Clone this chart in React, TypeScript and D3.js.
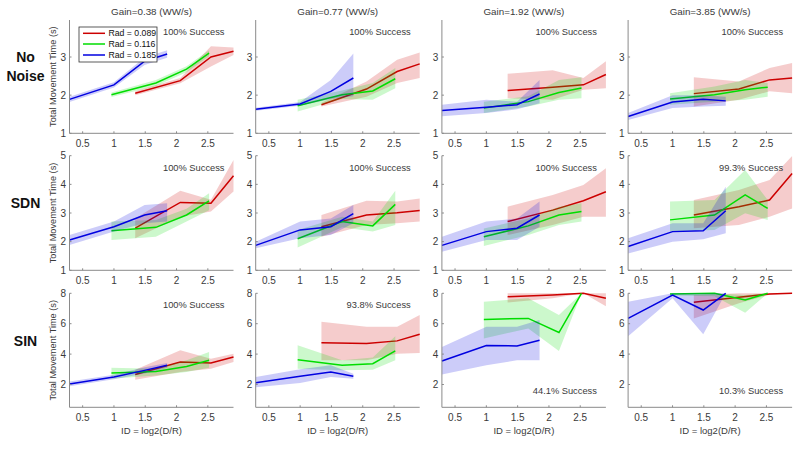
import React from "react";
import * as d3 from "d3";

const GAINS = ["0.38", "0.77", "1.92", "3.85"];
const ROW_LABELS = [["No", "Noise"], ["SDN"], ["SIN"]];
const RADII = ["0.089", "0.116", "0.185"];
const ID_RED = [1.34, 2.06, 2.55, 2.91];
const ID_GREEN = [0.96, 1.67, 2.16, 2.52];
const ID_BLUE = [0.29, 1.0, 1.49, 1.85];
const X_DOMAIN = [0.29, 2.91];
const X_TICKS = [0.5, 1, 1.5, 2, 2.5];
const Y_TICKS = [[1, 2, 3], [1, 2, 3, 4, 5], [2, 4, 6, 8]];
const Y_DOMAINS = [[1, 3.97], [1, 5], [0.5, 8]];
const SUCCESS = [
  ["100%", "100%", "100%", "100%"],
  ["100%", "100%", "100%", "99.3%"],
  ["100%", "93.8%", "44.1%", "10.3%"],
];

// No Noise
const NN_RED_MEAN = [[2.05, 2.38, 3.0, 3.15], [1.75, 2.16, 2.62, 2.82], [2.12, 2.21, 2.27, 2.54], [2.04, 2.16, 2.4, 2.45]];
const NN_RED_LO = [[2.0, 2.31, 2.75, 3.05], [1.7, 1.96, 2.32, 2.45], [1.92, 1.88, 2.14, 2.18], [1.7, 1.88, 2.1, 2.05]];
const NN_RED_HI = [[2.1, 2.45, 3.28, 3.25], [1.8, 2.36, 2.93, 3.12], [2.56, 2.65, 2.45, 2.89], [2.47, 2.36, 2.71, 2.84]];
const NN_GREEN_MEAN = [[2.01, 2.32, 2.68, 3.1], [1.72, 2.01, 2.11, 2.43], [1.66, 1.83, 2.07, 2.19], [1.9, 2.01, 2.14, 2.21]];
const NN_GREEN_LO = [[1.95, 2.24, 2.6, 3.02], [1.57, 1.9, 1.88, 2.18], [1.53, 1.7, 1.88, 1.92], [1.75, 1.83, 1.88, 1.96]];
const NN_GREEN_HI = [[2.07, 2.4, 2.76, 3.18], [1.88, 2.12, 2.32, 2.71], [1.83, 1.97, 2.4, 2.47], [2.05, 2.23, 2.4, 2.32]];
const NN_BLUE_MEAN = [[1.89, 2.27, 2.89, 3.08], [1.63, 1.77, 2.1, 2.45], [1.6, 1.68, 1.75, 2.03], [1.44, 1.82, 1.89, 1.85]];
const NN_BLUE_LO = [[1.82, 2.2, 2.79, 2.98], [1.59, 1.72, 1.9, 1.97], [1.45, 1.53, 1.63, 1.79], [1.35, 1.66, 1.7, 1.72]];
const NN_BLUE_HI = [[1.96, 2.34, 2.99, 3.18], [1.67, 1.82, 2.4, 3.09], [1.75, 1.88, 1.83, 2.4], [1.53, 2.0, 2.0, 1.96]];

// SDN
const SDN_RED_MEAN = [[2.47, 3.37, 3.34, 4.3], [2.52, 2.93, 3.01, 3.09], [2.7, 3.1, 3.43, 3.74], [2.93, 3.22, 3.45, 4.38]];
const SDN_RED_LO = [[2.12, 2.87, 3.05, 3.75], [2.17, 2.58, 2.64, 2.7], [2.23, 2.58, 2.87, 2.87], [2.47, 2.58, 2.87, 3.16]];
const SDN_RED_HI = [[2.81, 3.78, 3.46, 4.85], [2.93, 3.43, 3.4, 3.51], [3.22, 3.63, 3.98, 4.56], [3.45, 3.8, 4.15, 4.99]];
const SDN_GREEN_MEAN = [[2.38, 2.5, 2.93, 3.42], [2.1, 2.7, 2.55, 3.3], [2.17, 2.55, 2.93, 3.05], [2.76, 2.93, 3.63, 3.16]];
const SDN_GREEN_LO = [[2.06, 2.17, 2.7, 3.1], [1.8, 2.5, 2.35, 2.58], [1.85, 2.23, 2.58, 2.7], [2.35, 2.41, 2.99, 2.76]];
const SDN_GREEN_HI = [[2.7, 2.76, 3.15, 3.69], [2.41, 2.87, 2.7, 3.78], [2.46, 2.81, 3.22, 3.34], [3.4, 3.45, 4.5, 3.45]];
const SDN_BLUE_MEAN = [[2.06, 2.52, 2.93, 3.08], [1.87, 2.41, 2.52, 2.98], [1.87, 2.35, 2.47, 2.93], [1.83, 2.35, 2.38, 3.08]];
const SDN_BLUE_LO = [[1.88, 2.35, 2.64, 2.7], [1.77, 2.12, 2.23, 2.64], [1.65, 2.06, 2.06, 2.52], [1.59, 2.0, 2.08, 2.29]];
const SDN_BLUE_HI = [[2.23, 2.7, 3.28, 3.34], [2.0, 2.7, 2.81, 3.28], [2.17, 2.7, 2.81, 3.4], [2.12, 2.64, 2.64, 3.92]];

// SIN
const SIN_RED_MEAN = [[2.66, 3.48, 3.41, 3.81], [4.74, 4.69, 4.87, 5.31], [7.78, 7.89, 8.0, 7.67], [7.41, 7.74, 7.96, 8.0]];
const SIN_RED_LO = [[2.31, 2.82, 3.04, 3.48], [3.59, 3.59, 4.03, 4.08], [7.39, 7.67, 8.0, 7.15], [6.35, 7.34, 7.9, 8.0]];
const SIN_RED_HI = [[2.97, 4.25, 3.7, 4.03], [6.13, 5.8, 5.8, 6.57], [8.0, 8.0, 8.0, 8.0], [7.89, 8.0, 8.0, 8.0]];
const SIN_GREEN_MEAN = [[2.75, 2.86, 3.19, 3.59], [3.63, 3.26, 3.37, 4.21], [6.28, 6.35, 5.42, 8.0], [7.96, 8.0, 7.56, 8.0]];
const SIN_GREEN_LO = [[2.38, 2.6, 2.82, 3.1], [3.04, 2.93, 2.97, 3.59], [5.02, 5.69, 4.21, 8.0], [7.85, 7.8, 6.72, 8.0]];
const SIN_GREEN_HI = [[3.1, 3.04, 3.59, 4.14], [4.58, 3.59, 3.77, 5.18], [7.45, 7.67, 6.57, 8.0], [8.0, 8.0, 7.89, 8.0]];
const SIN_BLUE_MEAN = [[2.04, 2.49, 2.93, 3.26], [2.11, 2.55, 2.82, 2.55], [3.55, 4.56, 4.54, 4.91], [6.35, 7.89, 6.9, 8.0]];
const SIN_BLUE_LO = [[1.89, 2.34, 2.73, 3.11], [1.82, 2.1, 2.49, 2.38], [2.66, 3.26, 3.59, 3.59], [5.18, 7.67, 5.31, 8.0]];
const SIN_BLUE_HI = [[2.19, 2.64, 3.13, 3.41], [2.49, 3.0, 3.26, 2.71], [4.47, 5.8, 5.8, 6.24], [7.45, 8.0, 8.0, 8.0]];

const COLORS = ["#cc0000", "#00dd00", "#0000e0"];
const FONT = "'Liberation Sans', Arial, sans-serif";

const ROWS = [
  [[NN_RED_MEAN, NN_RED_LO, NN_RED_HI], [NN_GREEN_MEAN, NN_GREEN_LO, NN_GREEN_HI], [NN_BLUE_MEAN, NN_BLUE_LO, NN_BLUE_HI]],
  [[SDN_RED_MEAN, SDN_RED_LO, SDN_RED_HI], [SDN_GREEN_MEAN, SDN_GREEN_LO, SDN_GREEN_HI], [SDN_BLUE_MEAN, SDN_BLUE_LO, SDN_BLUE_HI]],
  [[SIN_RED_MEAN, SIN_RED_LO, SIN_RED_HI], [SIN_GREEN_MEAN, SIN_GREEN_LO, SIN_GREEN_HI], [SIN_BLUE_MEAN, SIN_BLUE_LO, SIN_BLUE_HI]],
];
const SERIES_X = [ID_RED, ID_GREEN, ID_BLUE];

const COL_LEFT = [69.5, 255.7, 441.9, 628.1];
const PANEL_W = 164;
const ROW_RANGE = [[133.3, 20], [270.3, 155.7], [407.3, 293.3]];
const AXIS = "#8a8a8a";
const TXT = "#3a3a3a";

function Panel({ r, c }: { r: number; c: number }) {
  const left = COL_LEFT[c];
  const right = left + PANEL_W;
  const x = d3.scaleLinear().domain(X_DOMAIN).range([left, right]);
  const y = d3.scaleLinear().domain(Y_DOMAINS[r]).range(ROW_RANGE[r]);
  const [bottom, top] = ROW_RANGE[r];
  const series = ROWS[r];
  const succ = SUCCESS[r][c] + " Success";
  const succBottom = r === 2 && c >= 2;
  return (
    <g>
      {series.map((s, k) => {
        const xs = SERIES_X[k];
        const [mean, lo, hi] = s;
        const pts = xs.map((xv, i) => ({ x: xv, m: mean[c][i], lo: lo[c][i], hi: hi[c][i] }));
        const area = d3.area<any>().x((d) => x(d.x)).y0((d) => y(d.lo)).y1((d) => y(d.hi));
        const line = d3.line<any>().x((d) => x(d.x)).y((d) => y(d.m));
        return (
          <g key={k}>
            <path d={area(pts) || ""} fill={COLORS[k]} fillOpacity={0.2} stroke="none" />
            <path d={line(pts) || ""} fill="none" stroke={COLORS[k]} strokeWidth={1.5} />
          </g>
        );
      })}
      <line x1={left} x2={right} y1={bottom} y2={bottom} stroke={AXIS} strokeWidth={1} />
      <line x1={left} x2={left} y1={bottom} y2={top} stroke={AXIS} strokeWidth={1} />
      {X_TICKS.map((t) => (
        <g key={"x" + t}>
          <line x1={x(t)} x2={x(t)} y1={bottom} y2={bottom - 2} stroke={AXIS} />
          <text x={x(t)} y={bottom + 10} fontSize={10} fill={TXT} textAnchor="middle" dominantBaseline="central" fontFamily={FONT}>
            {t}
          </text>
        </g>
      ))}
      {Y_TICKS[r].map((t) => (
        <g key={"y" + t}>
          <line x1={left} x2={left + 2} y1={y(t)} y2={y(t)} stroke={AXIS} />
          <text x={left - 3.5} y={y(t)} fontSize={10} fill={TXT} textAnchor="end" dominantBaseline="central" fontFamily={FONT}>
            {t}
          </text>
        </g>
      ))}
      <text
        x={right - 9}
        y={succBottom ? bottom - 16 : top + 12}
        fontSize={9.3}
        fill={TXT}
        textAnchor="end"
        dominantBaseline="central"
        fontFamily={FONT}
      >
        {succ}
      </text>
      {r === 0 && (
        <text x={(left + right) / 2} y={11.7} fontSize={9.8} fill={TXT} textAnchor="middle" dominantBaseline="central" fontFamily={FONT}>
          {"Gain=" + GAINS[c] + " (WW/s)"}
        </text>
      )}
      {r === 2 && (
        <text x={(left + right) / 2} y={430} fontSize={9.5} fill={TXT} textAnchor="middle" dominantBaseline="central" fontFamily={FONT}>
          ID = log2(D/R)
        </text>
      )}
      {c === 0 && (
        <text
          transform={`translate(53,${(top + bottom) / 2}) rotate(-90)`}
          fontSize={9.2}
          fill={TXT}
          textAnchor="middle"
          dominantBaseline="central"
          fontFamily={FONT}
        >
          Total Movement Time (s)
        </text>
      )}
    </g>
  );
}

function Legend() {
  const rowsY = [33.3, 44, 55];
  return (
    <g>
      <rect x={79} y={27} width={78} height={35} fill="white" stroke="#333" strokeWidth={0.8} />
      {RADII.map((rad, k) => (
        <g key={k}>
          <line x1={83} x2={105} y1={rowsY[k]} y2={rowsY[k]} stroke={COLORS[k]} strokeWidth={1.5} />
          <text x={108.5} y={rowsY[k]} fontSize={8.7} fill="#111" dominantBaseline="central" fontFamily={FONT}>
            {"Rad = " + rad}
          </text>
        </g>
      ))}
    </g>
  );
}

export default function App() {
  const rowLabelY = [[57, 76], [203], [340.7]];
  return (
    <svg width={800} height={449} style={{ position: "absolute", left: 0, top: 0, background: "white" }}>
      <rect x={0} y={0} width={800} height={449} fill="white" />
      {[0, 1, 2].map((r) =>
        [0, 1, 2, 3].map((c) => <Panel key={r + "-" + c} r={r} c={c} />)
      )}
      <Legend />
      {ROW_LABELS.map((lines, r) =>
        lines.map((t, i) => (
          <text
            key={r + "-" + i}
            x={25.5}
            y={rowLabelY[r][i]}
            fontSize={14}
            fontWeight="bold"
            fill="#111"
            textAnchor="middle"
            dominantBaseline="central"
            fontFamily={FONT}
          >
            {t}
          </text>
        ))
      )}
    </svg>
  );
}
